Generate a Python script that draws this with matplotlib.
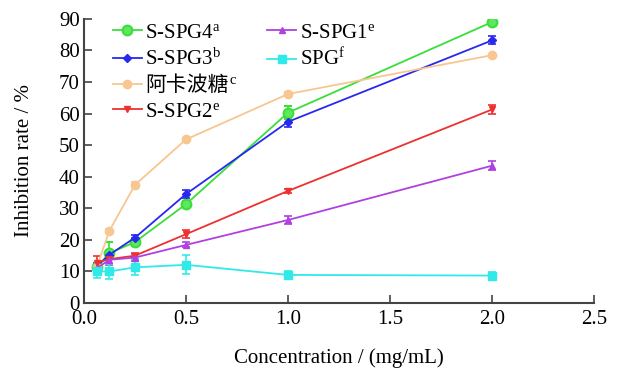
import matplotlib
matplotlib.use('Agg')
import matplotlib.pyplot as plt
from matplotlib.lines import Line2D

plt.rcParams['font.family'] = ['Liberation Serif', 'Noto Sans CJK SC', 'DejaVu Sans']
plt.rcParams['mathtext.fontset'] = 'custom'
plt.rcParams['mathtext.rm'] = 'Liberation Serif'

# concentration (mg/mL)
conc = [0.0625, 0.125, 0.25, 0.5, 1.0, 2.0]

# inhibition rate (%) and error bars
spg4 = [11.3, 15.8, 19.3, 31.3, 60.3, 89.0]
spg4_err = [1.0, 3.5, 1.2, 1.0, 2.0, 0.5]
spg3 = [11.6, 15.3, 20.7, 34.5, 57.4, 83.2]
spg3_err = [1.0, 1.2, 0.8, 1.2, 1.6, 1.3]
acarbose = [11.3, 22.9, 37.4, 51.8, 66.2, 78.5]
acarbose_err = [0.5, 0.5, 0.8, 0.5, 0.5, 0.5]
spg2 = [12.8, 13.9, 15.0, 21.8, 35.5, 61.3]
spg2_err = [2.0, 1.5, 1.0, 1.2, 0.6, 1.3]
spg1 = [11.0, 13.7, 14.4, 18.4, 26.3, 43.5]
spg1_err = [1.0, 1.5, 1.0, 0.8, 1.2, 1.4]
spg = [10.0, 10.0, 11.3, 12.1, 8.9, 8.7]
spg_err = [2.0, 2.5, 2.5, 3.0, 1.2, 1.0]

labels = ['S-SPG4$\\mathregular{^a}$', 'S-SPG3$\\mathregular{^b}$', '阿卡波糖',
          'S-SPG2$\\mathregular{^e}$', 'S-SPG1$\\mathregular{^e}$', 'SPG$\\mathregular{^f}$']

fig = plt.figure(figsize=(6.17, 3.70), dpi=100)
ax = fig.add_axes([0.136, 0.181, 0.827, 0.768])

series = [
    (spg4, spg4_err, '#3ade3a', 'o', dict(ms=7, mfc='#5ee85e', mew=1.5)),
    (spg3, spg3_err, '#2828ee', 'D', dict(ms=4)),
    (acarbose, acarbose_err, '#f8c690', 'o', dict(ms=6)),
    (spg2, spg2_err, '#ee3030', 'v', dict(ms=5)),
    (spg1, spg1_err, '#b040e0', '^', dict(ms=5)),
    (spg, spg_err, '#30eaea', 's', dict(ms=6)),
]

handles = []
for (y, e, c, m, kw), lab in zip(series, labels):
    ax.errorbar(conc, y, yerr=e, color=c, marker=m, lw=1.3, capsize=3,
                elinewidth=1.2, capthick=1.2, **kw)
    handles.append(Line2D([], [], color=c, marker=m, lw=1.3, **kw))

ax.set_xlim(0, 2.5)
ax.set_ylim(0, 90)
ax.set_xticks([0.0, 0.5, 1.0, 1.5, 2.0, 2.5])
ax.set_xticklabels(['0.0', '0.5', '1.0', '1.5', '2.0', '2.5'])
ax.set_yticks(range(0, 91, 10))

for s in ['top', 'right']:
    ax.spines[s].set_visible(False)
for s in ['left', 'bottom']:
    ax.spines[s].set_color('#444444')
    ax.spines[s].set_linewidth(1.5)
ax.tick_params(direction='in', length=6, width=1.2, color='#444444', labelsize=15)
ax.tick_params(axis='x', pad=5)
ax.tick_params(axis='y', pad=3)

ax.set_xlabel('Concentration / (mg/mL)', fontsize=15, labelpad=14)
ax.set_ylabel('Inhibition rate / %', fontsize=15, labelpad=18)

leg_kw = dict(loc='upper left', frameon=False, fontsize=15, handlelength=1.4,
              handletextpad=0.15, labelspacing=0.3, borderaxespad=0)
leg1 = ax.legend(handles[:4], labels[:4], bbox_to_anchor=(0.04, 1.015), **leg_kw)
ax.add_artist(leg1)
ax.legend(handles[4:], labels[4:], bbox_to_anchor=(0.343, 1.015), **leg_kw)

# superscript for the Chinese legend entry
fig.canvas.draw()
bb = leg1.get_texts()[2].get_window_extent()
x, y = fig.transFigure.inverted().transform((bb.x1 + 1, bb.y1 + 2))
fig.text(x, y, 'c', fontsize=10.5, va='top', ha='left')

fig.savefig('out.png', dpi=100)
